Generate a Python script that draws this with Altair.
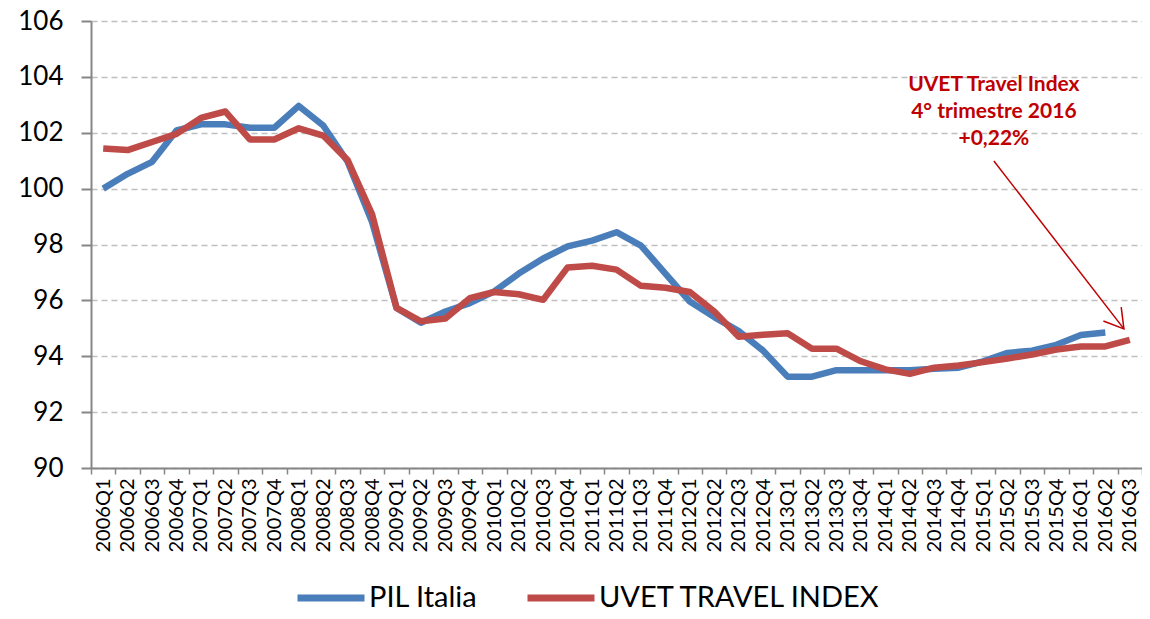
import altair as alt
import pandas as pd

quarters = [f"{y}Q{q}" for y in range(2006, 2017) for q in range(1, 5)][:43]

series_names = ["PIL Italia", "UVET TRAVEL INDEX"]
series_colors = ["#4A7EBB", "#BE4B48"]

pil_italia = [
    100.0, 100.53, 100.96, 102.08, 102.3, 102.3, 102.18, 102.18, 102.96, 102.26,
    100.96, 98.8, 95.73, 95.2, 95.6, 95.9, 96.32, 96.96, 97.5, 97.93,
    98.14, 98.44, 97.96, 96.96, 95.96, 95.4, 94.9, 94.2, 93.27, 93.27,
    93.5, 93.5, 93.5, 93.5, 93.55, 93.59, 93.82, 94.12, 94.2, 94.41,
    94.76, 94.85,
]
uvet_index = [
    101.44, 101.38, 101.67, 101.96, 102.53, 102.76, 101.76, 101.76, 102.16, 101.9,
    101.02, 99.08, 95.73, 95.25, 95.35, 96.08, 96.3, 96.22, 96.02, 97.18,
    97.24, 97.1, 96.52, 96.45, 96.3, 95.6, 94.7, 94.77, 94.82, 94.27,
    94.27, 93.82, 93.53, 93.37, 93.59, 93.67, 93.79, 93.92, 94.06, 94.24,
    94.35, 94.35, 94.59,
]

y_ticks = list(range(90, 107, 2))

annotation_lines = ["UVET Travel Index", "4° trimestre 2016", "+0,22%"]
annotation_pos = {"x": [36.44], "value": [103.71]}
arrow_pos = {"x1": [36.44], "value": [100.99], "x2": [41.76], "value2": [94.98]}

rows = []
for q, v in zip(quarters, pil_italia):
    rows.append({"quarter": q, "series": series_names[0], "value": v})
for q, v in zip(quarters, uvet_index):
    rows.append({"quarter": q, "series": series_names[1], "value": v})
df = pd.DataFrame(rows)

FONT = "Lato"
AXIS_GRAY = "#868686"

y_scale = alt.Scale(domain=[90, 106], nice=False, zero=False)
y_axis = alt.Axis(
    title=None, values=y_ticks, labelFont=FONT, labelFontSize=26, labelColor="black",
    tickSize=10, tickColor=AXIS_GRAY, tickWidth=2, labelPadding=18,
    domainColor=AXIS_GRAY, domainWidth=2,
    grid=True, gridColor="#BFBFBF", gridDash=[6, 4], gridWidth=1.5,
)


def y_enc(field="value"):
    return alt.Y(f"{field}:Q", scale=y_scale, axis=y_axis)


lines = alt.Chart(df).mark_line(strokeWidth=6.5, strokeJoin="round", strokeCap="butt").encode(
    x=alt.X(
        "quarter:O", sort=quarters,
        scale=alt.Scale(type="band", paddingInner=0, paddingOuter=0),
        axis=alt.Axis(
            title=None, labelAngle=270, labelFont=FONT, labelFontSize=20, labelColor="black",
            tickBand="extent", tickSize=6, tickColor=AXIS_GRAY, tickWidth=1.5,
            labelPadding=4, domainColor=AXIS_GRAY, domainWidth=2, grid=False,
        ),
    ),
    y=y_enc(),
    color=alt.Color(
        "series:N",
        scale=alt.Scale(domain=series_names, range=series_colors),
        legend=alt.Legend(
            title=None, orient="none", legendX=203, legendY=540, direction="horizontal",
            symbolType="stroke", symbolSize=4489, symbolStrokeWidth=7,
            labelFont=FONT, labelFontSize=29, labelColor="black", labelOffset=1,
            labelLimit=0, columnPadding=35,
        ),
    ),
)

xq_scale = alt.Scale(domain=[-0.5, 42.5], nice=False, zero=False)

ann_text = alt.Chart(pd.DataFrame(annotation_pos)).mark_text(
    text=annotation_lines, font=FONT, fontSize=21, fontWeight="bold", color="#C00000",
    lineHeight=27, align="center", baseline="middle",
).encode(
    x=alt.X("x:Q", scale=xq_scale, axis=None),
    y=y_enc(),
)

arrow_df = pd.DataFrame(arrow_pos)
arrow_line = alt.Chart(arrow_df).mark_rule(color="#C00000", strokeWidth=1.5).encode(
    x=alt.X("x1:Q", scale=xq_scale, axis=None),
    x2="x2:Q",
    y=y_enc(),
    y2="value2:Q",
)
arrow_head = alt.Chart(arrow_df).mark_point(
    shape="M-0.6,-1L0,0L0.6,-1", size=1423, angle=322, filled=False,
    stroke="#C00000", strokeWidth=1.5, opacity=1,
).encode(
    x=alt.X("x2:Q", scale=xq_scale, axis=None),
    y=y_enc("value2"),
)

annotations = alt.layer(ann_text, arrow_line, arrow_head)

chart = alt.layer(lines, annotations).resolve_scale(x="independent").properties(
    width=1051, height=447,
    padding={"left": 83, "top": 13, "right": 0, "bottom": 143},
    autosize=alt.AutoSizeParams(type="none"),
).configure_view(stroke=None)

chart.save("out.html", embed_options={"renderer": "svg", "actions": False})
